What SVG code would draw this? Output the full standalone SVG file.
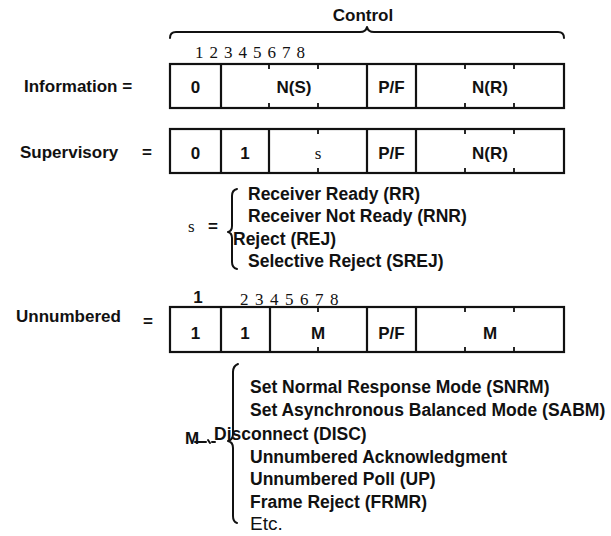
<svg xmlns="http://www.w3.org/2000/svg" width="611" height="536" viewBox="0 0 611 536">
<style>
.b{font-family:"Liberation Sans",Arial,sans-serif;font-weight:bold;font-size:17px;fill:#111}
.c{text-anchor:middle}
.l{font-family:"Liberation Sans",Arial,sans-serif;font-weight:bold;font-size:17.5px;fill:#111}
.r{font-family:"Liberation Sans",Arial,sans-serif;font-size:19px;fill:#111}
.sr{font-family:"Liberation Serif","Times New Roman",serif;font-size:17px;fill:#111}
.box{fill:none;stroke:#111;stroke-width:2.2}
.dv{stroke:#111;stroke-width:2.2}
.tk{stroke:#111;stroke-width:1.8}
.br{fill:none;stroke:#111;stroke-width:2;stroke-linecap:round;stroke-linejoin:round}
</style>
<rect width="611" height="536" fill="#fff"/>

<g id="control">
<text class="b c" x="363" y="21">Control</text>
<path class="br" d="M170,38 Q170,32 176,32 L360,32 Q366,32 367,27 Q368,32 374,32 L558,32 Q564,32 564,38"/>
</g>

<g id="information">
<text class="b" x="24" y="92">Information =</text>
<text class="sr" x="195" y="58" letter-spacing="6">12345678</text>
<rect class="box" x="170" y="64" width="394" height="44"/>
<path class="dv" d="M221,64V108M367,64V108M416,64V108"/>
<path class="tk" d="M269,64v5M318,64v5M465,64v5M514,64v5M269,108v-5M318,108v-5M465,108v-5M514,108v-5"/>
<text class="b c" x="195.5" y="93">0</text>
<text class="b c" x="294" y="93">N(S)</text>
<text class="b c" x="391.5" y="93">P/F</text>
<text class="b c" x="490" y="93">N(R)</text>
</g>

<g id="supervisory">
<text class="b" x="20" y="158">Supervisory</text>
<text class="b" x="142" y="158">=</text>
<rect class="box" x="170" y="129" width="394" height="44"/>
<path class="dv" d="M221,129V173M269,129V173M367,129V173M416,129V173"/>
<path class="tk" d="M318,129v5M465,129v5M514,129v5M318,173v-5M465,173v-5M514,173v-5"/>
<text class="b c" x="195.5" y="159">0</text>
<text class="b c" x="245" y="159">1</text>
<text class="sr c" x="318" y="159">s</text>
<text class="b c" x="391.5" y="159">P/F</text>
<text class="b c" x="490" y="159">N(R)</text>
</g>

<g id="s-list">
<text class="sr" x="188" y="232">s</text>
<text class="b" x="208" y="232">=</text>
<path class="br" d="M237,189 Q232,190 232,196 L232,226 Q232,231 228,232 Q232,233 232,238 L232,262 Q232,268 237,269"/>
<text class="l" x="248" y="200">Receiver Ready (RR)</text>
<text class="l" x="248" y="222">Receiver Not Ready (RNR)</text>
<text class="l" x="233" y="245">Reject (REJ)</text>
<text class="l" x="248" y="267">Selective Reject (SREJ)</text>
</g>

<g id="unnumbered">
<text class="b" x="16" y="322">Unnumbered</text>
<text class="b" x="143" y="327">=</text>
<text class="b c" x="198" y="303">1</text>
<text class="sr" x="240" y="305" letter-spacing="6.5">2345678</text>
<rect class="box" x="170" y="307" width="394" height="45"/>
<path class="dv" d="M221,307V352M270,307V352M367,307V352M416,307V352"/>
<path class="tk" d="M318,307v5M465,307v5M514,307v5M318,352v-5M465,352v-5M514,352v-5"/>
<text class="b c" x="195.5" y="339">1</text>
<text class="b c" x="245" y="339">1</text>
<text class="b c" x="318" y="339">M</text>
<text class="b c" x="391.5" y="339">P/F</text>
<text class="b c" x="490" y="339">M</text>
</g>

<g id="m-list">
<text class="b" x="185" y="444" font-size="10">M</text>
<path class="br" d="M238,364 Q233,366 233,372 L233,434 Q233,440 228,441 Q233,442 233,448 L233,516 Q233,522 237,523"/>
<text class="l" x="250" y="393">Set Normal Response Mode (SNRM)</text>
<text class="l" x="250" y="416">Set Asynchronous Balanced Mode (SABM)</text>
<text class="l" x="214" y="440">Disconnect (DISC)</text>
<text class="l" x="250" y="463">Unnumbered Acknowledgment</text>
<text class="l" x="250" y="485">Unnumbered Poll (UP)</text>
<text class="l" x="250" y="508">Frame Reject (FRMR)</text>
<text class="r" x="250" y="530">Etc.</text>
</g>

<g id="connectors">
<path class="br" stroke-width="1.5" d="M195,442 H206 M208,440 l2,3 M212,442 h3"/>
</g>
</svg>
